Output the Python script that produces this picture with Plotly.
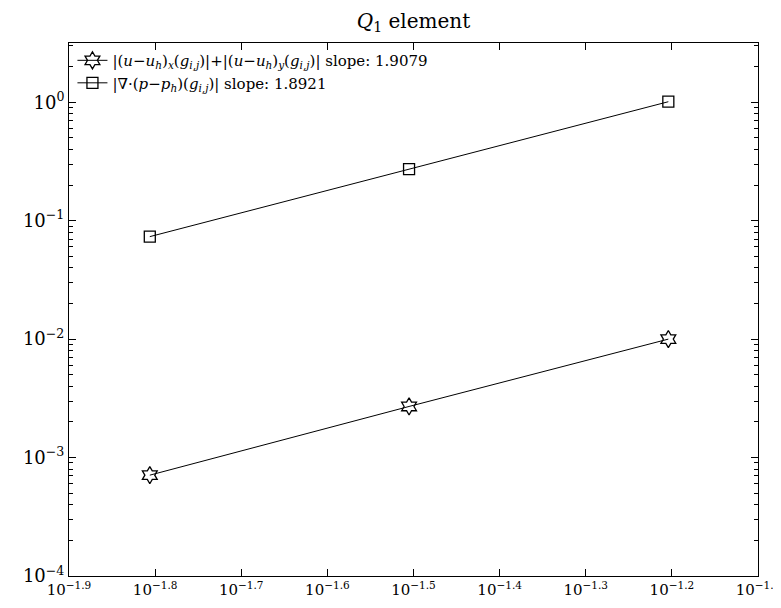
import plotly.graph_objects as go

h = [1/64, 1/32, 1/16]
err_u = [0.00071, 0.0027, 0.0100]
err_p = [0.0733, 0.272, 1.01]
names = [
    "|(<i>u</i>−<i>u</i><sub><i>h</i></sub>)<sub><i>x</i></sub>(<i>g</i><sub><i>i,j</i></sub>)|+|(<i>u</i>−<i>u</i><sub><i>h</i></sub>)<sub><i>y</i></sub>(<i>g</i><sub><i>i,j</i></sub>)| slope: 1.9079",
    "|∇·(<i>p</i>−<i>p</i><sub><i>h</i></sub>)(<i>g</i><sub><i>i,j</i></sub>)| slope: 1.8921",
]
x_exps = [-1.9, -1.8, -1.7, -1.6, -1.5, -1.4, -1.3, -1.2, -1.1]
y_exps = [-4, -3, -2, -1, 0]
minor_mult = [2, 3, 4, 5, 6, 7, 8, 9]

font = "DejaVu Serif, Liberation Serif, serif"
fig = go.Figure()
fig.add_trace(go.Scatter(x=h, y=err_u, mode="lines+markers", name=names[0],
                         line=dict(color="black", width=1),
                         marker=dict(symbol="hexagram-open", size=13, color="black", line=dict(width=1.3))))
fig.add_trace(go.Scatter(x=h, y=err_p, mode="lines+markers", name=names[1],
                         line=dict(color="black", width=1),
                         marker=dict(symbol="square-open", size=11, color="black", line=dict(width=1.3))))

minor_vals = [m * 10**e for e in y_exps for m in minor_mult if m * 10**e <= 10**0.5]

fig.update_layout(
    width=781, height=608,
    margin=dict(l=61, r=31, t=35, b=40),
    plot_bgcolor="white", paper_bgcolor="white",
    font=dict(family=font, color="black", size=17),
    title=dict(text="<i>Q</i><sub>1</sub> element", x=0.5, xanchor="center", xref="paper",
               y=0.99, yanchor="top", font=dict(size=20, family=font)),
    showlegend=True,
    legend=dict(x=0.005, y=0.998, xanchor="left", yanchor="top", bgcolor="rgba(0,0,0,0)",
                font=dict(size=15, family=font), itemwidth=30, tracegroupgap=0),
)
fig.update_xaxes(
    type="log", range=[-1.9, -1.1],
    tickvals=[10**e for e in x_exps],
    ticktext=["10<sup>−%.1f</sup>" % abs(e) for e in x_exps],
    ticks="inside", ticklen=7, tickwidth=1, tickcolor="black",
    showline=True, linecolor="black", linewidth=1, mirror="allticks",
    showgrid=False, zeroline=False, tickfont=dict(size=15), automargin=False,
)
fig.update_yaxes(
    type="log", range=[-4, 0.5],
    tickvals=[10**e for e in y_exps],
    ticktext=["10<sup>%s</sup>" % (("−%d" % abs(e)) if e < 0 else "0") for e in y_exps],
    ticks="inside", ticklen=7, tickwidth=1, tickcolor="black",
    minor=dict(tickvals=minor_vals, ticks="inside", ticklen=4, tickwidth=1,
               tickcolor="black", showgrid=False),
    showline=True, linecolor="black", linewidth=1, mirror="allticks",
    showgrid=False, zeroline=False, tickfont=dict(size=18), automargin=False,
)
fig.write_html("out.html")
